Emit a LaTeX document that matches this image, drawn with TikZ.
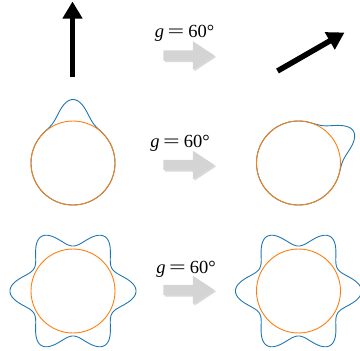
\documentclass[tikz,border=0pt]{standalone}
\usepackage{fontspec}
\setmainfont{Liberation Serif}
\usetikzlibrary{arrows.meta,shapes.arrows,shadows}
\definecolor{odfblue}{RGB}{31,119,180}
\definecolor{sphorange}{RGB}{255,127,14}
\definecolor{rotgray}{RGB}{212,212,212}
\newcommand{\gsixty}{{\itshape g}\hspace{3.5pt}\scalebox{1.6}[1]{=}\hspace{4pt}60°}
\tikzset{
  declare function={bump(\a)=exp(-(\a/10)*(\a/10)/3.4);
                    lobe(\t)=bump(\t-60*round(\t/60))+bump(60-abs(\t-60*round(\t/60)));},
  dirarr/.style={line width=5.5pt,-{Triangle[length=17pt,width=19pt]}},
  rotarr/.style={single arrow,fill=rotgray,draw=none,inner xsep=0pt,inner ysep=5pt,minimum height=51pt,
    single arrow head extend=9pt,single arrow tip angle=67,
    drop shadow={shadow xshift=1.5pt,shadow yshift=-1.5pt,fill=black,opacity=.15}},
  glabel/.style={font=\fontsize{18.5}{18.5}\selectfont,anchor=base,inner sep=0pt},
  sphere/.style={draw=sphorange,line width=0.9pt},
  odf/.style={draw=odfblue,line width=0.9pt,smooth},
}
\begin{document}
\begin{tikzpicture}[x=1pt,y=-1pt]
\useasboundingbox (0,0) rectangle (360,351);
\clip (0,0) rectangle (360,351);
\coordinate (ntail) at (72.5,77);
\coordinate (ntip) at (72.5,1.5);
\coordinate (rtail) at (277.5,71);
\coordinate (rtip) at (344.5,32.5);
\draw[dirarr] (ntail) -- (ntip);
\draw[dirarr] (rtail) -- (rtip);
\node[glabel] (lab1) at (184.5,37) {\gsixty};
\node[glabel] (lab2) at (180,147) {\gsixty};
\node[glabel] (lab3) at (186,273.5) {\gsixty};
\node[rotarr] (rot1) at (185,55.5) {};
\node[rotarr] (rot2) at (185,165) {};
\node[rotarr] (rot3) at (185,290) {};
\coordinate (c1) at (73,163);
\coordinate (c2) at (298.5,163);
\coordinate (c3) at (73,291);
\coordinate (c4) at (298.5,291);
\draw[odf] plot[domain=-90:270,samples=241] ({73+(42+21.5*bump(\x-90))*cos(\x)},{163-(42+21.5*bump(\x-90))*sin(\x)});
\draw[odf] plot[domain=-150:210,samples=241] ({298.5+(42+21.5*bump(\x-30))*cos(\x)},{163-(42+21.5*bump(\x-30))*sin(\x)});
\draw[odf] plot[domain=0:360,samples=361] ({73+(42+21*lobe(\x))*cos(\x)},{291-(42+21*lobe(\x))*sin(\x)});
\draw[odf] plot[domain=0:360,samples=361] ({298.5+(42+21*lobe(\x))*cos(\x)},{291-(42+21*lobe(\x))*sin(\x)});
\foreach \c in {c1,c2,c3,c4}
  \draw[sphere] (\c) circle[radius=42pt];
\end{tikzpicture}
\end{document}
